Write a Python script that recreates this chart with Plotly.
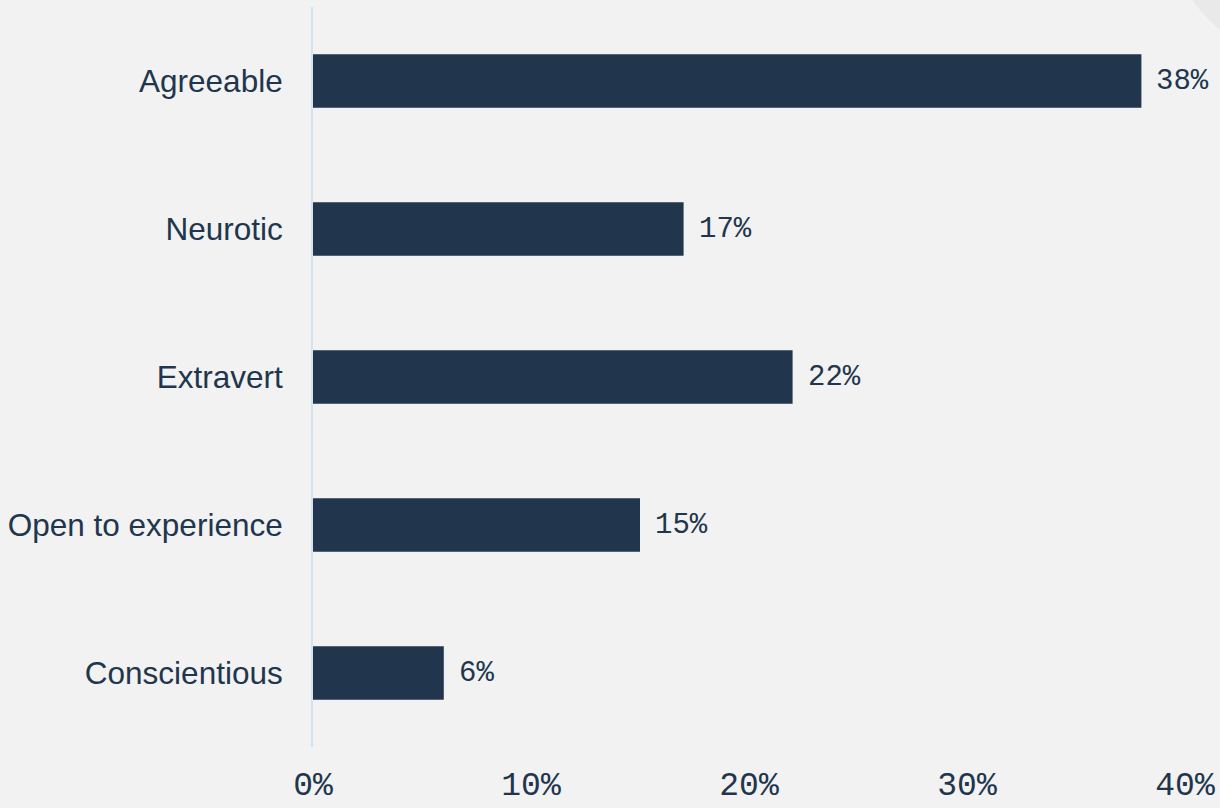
import plotly.graph_objects as go

traits = ["Agreeable", "Neurotic", "Extravert", "Open to experience", "Conscientious"]
shares = [38, 17, 22, 15, 6]
tick_vals = [0, 10, 20, 30, 40]
tick_text = ["0%", "10%", "20%", "30%", "40%"]

navy = "#21364d"
bg = "#f2f2f2"
mono = "Liberation Mono, Courier New, monospace"

fig = go.Figure(
    go.Bar(
        x=shares,
        y=traits,
        orientation="h",
        width=0.36,
        marker=dict(color=navy, line=dict(width=0)),
        hoverinfo="skip",
    )
)

# value labels to the right of each bar
for trait, share in zip(traits, shares):
    fig.add_annotation(
        x=share,
        y=trait,
        text=f"{share}%",
        showarrow=False,
        xanchor="left",
        yanchor="middle",
        xshift=13,
        font=dict(family=mono, size=29, color=navy),
    )

fig.update_layout(
    width=1220,
    height=808,
    paper_bgcolor=bg,
    plot_bgcolor=bg,
    margin=dict(l=313, r=35, t=7, b=61),
    showlegend=False,
    shapes=[
        dict(
            type="circle",
            xref="paper",
            yref="paper",
            x0=0.9663,
            x1=1.3892,
            y0=0.9089,
            y1=1.4073,
            fillcolor="#e9e9e9",
            line=dict(width=0),
            layer="below",
        )
    ],
)

fig.update_xaxes(
    range=[0, 40],
    tickvals=tick_vals,
    ticktext=tick_text,
    showgrid=False,
    zeroline=False,
    showline=False,
    tickfont=dict(family=mono, size=33, color=navy),
    ticks="",
    ticklabelstandoff=14,
    automargin=False,
)

fig.update_yaxes(
    categoryorder="array",
    categoryarray=traits[::-1],
    range=[-0.5, 4.5],
    showgrid=False,
    zeroline=False,
    showline=True,
    linecolor="#d5e2ef",
    linewidth=2,
    ticks="",
    ticklabelstandoff=22,
    tickfont=dict(family="Liberation Sans, Arial, sans-serif", size=31.5, color=navy),
    automargin=False,
)

fig.write_html("out.html")
